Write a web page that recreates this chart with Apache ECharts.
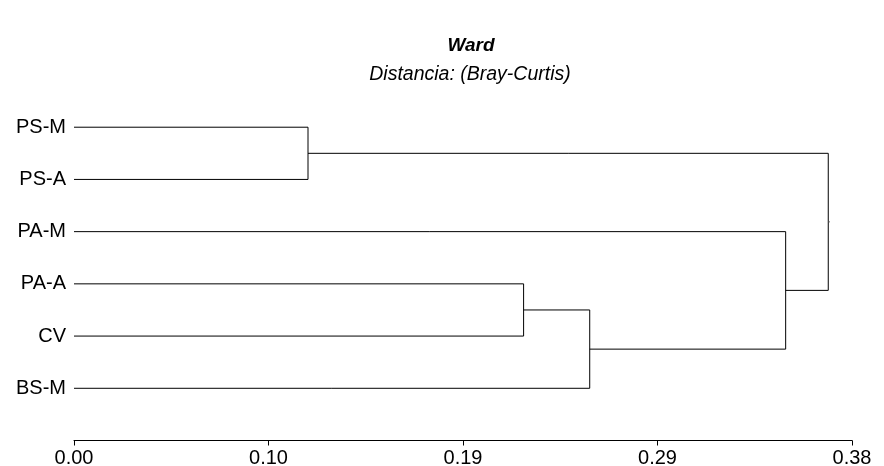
<!DOCTYPE html>
<html>
<head>
<meta charset="utf-8">
<script src="https://cdn.jsdelivr.net/npm/echarts@6/dist/echarts.min.js"></script>
<style>
  html, body { margin: 0; padding: 0; background: #fff; }
  #chart { width: 884px; height: 466px; }
</style>
</head>
<body>
<div id="chart"></div>
<script>
// Leaves of the dendrogram, top to bottom
const leaves = ['PS-M', 'PS-A', 'PA-M', 'PA-A', 'CV', 'BS-M'];
// Agglomeration steps: [child A, child B, joining distance]
// ids 0..5 are leaves, each step creates a new node id 6, 7, ...
const merges = [
  [0, 1, 0.1143],
  [3, 4, 0.2196],
  [7, 5, 0.2519],
  [2, 8, 0.3476],
  [6, 9, 0.3684]
];
// Distance axis
const axisMin = 0;
const axisMax = 0.38;
const axisStep = 0.095;
const tickLabels = ['0.00', '0.10', '0.19', '0.29', '0.38'];

// Node positions: leaves sit at distance 0, internal nodes at their height,
// vertically centred between their two children
const nodeX = leaves.map(() => 0);
const nodeY = leaves.map((_, i) => i);
const segments = [];
merges.forEach(([a, b, h]) => {
  segments.push([nodeX[a], nodeY[a], nodeX[b], nodeY[b], h]);
  nodeX.push(h);
  nodeY.push((nodeY[a] + nodeY[b]) / 2);
});
const rootId = nodeX.length - 1;

const FONT = 'Liberation Sans, Arial, sans-serif';
const chart = echarts.init(document.getElementById('chart'), null, { renderer: 'canvas' });

chart.setOption({
  backgroundColor: '#ffffff',
  animation: false,
  title: [
    {
      text: 'Ward',
      left: 466, top: 31, textAlign: 'center',
      textStyle: { fontFamily: FONT, fontSize: 19, fontWeight: 'bold', fontStyle: 'italic', color: '#000' }
    },
    {
      text: 'Distancia: (Bray-Curtis)',
      left: 465, top: 60, textAlign: 'center',
      textStyle: { fontFamily: FONT, fontSize: 19.5, fontWeight: 'normal', fontStyle: 'italic', color: '#000' }
    }
  ],
  grid: { left: 74, right: 32, top: 75, bottom: 25.5, containLabel: false, outerBoundsMode: 'none' },
  xAxis: {
    type: 'value',
    min: axisMin, max: axisMax, interval: axisStep,
    splitLine: { show: false },
    axisLine: { show: true, onZero: false, lineStyle: { color: '#000', width: 1 } },
    axisTick: { show: true, length: 5, lineStyle: { color: '#000' } },
    axisLabel: {
      margin: 8,
      fontFamily: FONT, fontSize: 20, color: '#000',
      formatter: v => tickLabels[Math.round((v - axisMin) / axisStep)] || ''
    }
  },
  yAxis: {
    type: 'value',
    inverse: true,
    min: -1, max: 6, interval: 1,
    splitLine: { show: false },
    axisLine: { show: false },
    axisTick: { show: false },
    axisLabel: {
      margin: 8,
      fontFamily: FONT, fontSize: 20, color: '#000',
      formatter: v => (v >= 0 && v < leaves.length) ? leaves[v] : ''
    }
  },
  series: [
    {
      type: 'custom',
      coordinateSystem: 'cartesian2d',
      data: segments,
      renderItem: (params, api) => {
        const p1 = api.coord([api.value(0), api.value(1)]);
        const p2 = api.coord([api.value(2), api.value(3)]);
        const hx = api.coord([api.value(4), 0])[0];
        return {
          type: 'polyline',
          shape: { points: [p1, [hx, p1[1]], [hx, p2[1]], p2] },
          style: { stroke: '#000', lineWidth: 1, fill: null }
        };
      },
      encode: { x: [0, 2, 4], y: [1, 3] },
      silent: true
    },
    {
      // short stub leaving the root node
      type: 'line',
      data: [[nodeX[rootId], nodeY[rootId]], [nodeX[rootId] + 0.0008, nodeY[rootId]]],
      symbol: 'none',
      lineStyle: { color: '#555', width: 1 },
      silent: true
    }
  ]
});
</script>
</body>
</html>
